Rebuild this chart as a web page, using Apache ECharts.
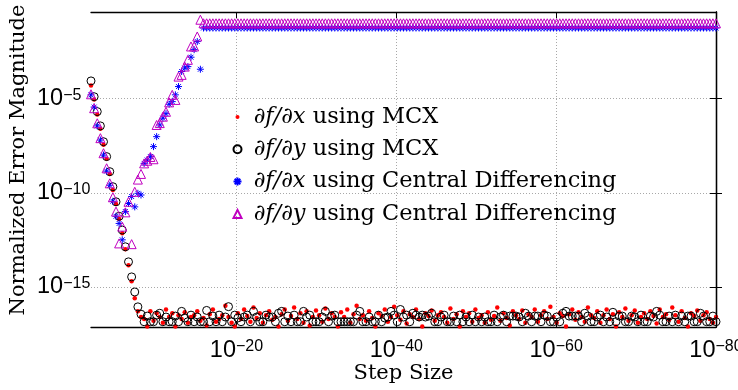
<!DOCTYPE html>
<html>
<head>
<meta charset="utf-8">
<script src="https://cdn.jsdelivr.net/npm/echarts@6/dist/echarts.min.js"></script>
<style>
html, body { margin: 0; padding: 0; background: #fff; }
#chart { width: 738px; height: 390px; }
</style>
</head>
<body>
<div id="chart"></div>
<script>
// step sizes are log-spaced: exponent runs from -1.8 down to -80
var stepExpStart = -1.8;
var stepExpEnd = -80;
var stepCount = 201;

var xTicks = [1e-20, 1e-40, 1e-60, 1e-80];
var yTicks = [1e-5, 1e-10, 1e-15];
var yMinExp = -17.13;
var yMaxExp = -0.4;

var seriesNames = [
    '∂f/∂x using MCX',
    '∂f/∂y using MCX',
    '∂f/∂x using Central Differencing',
    '∂f/∂y using Central Differencing'
];

// log10 of the normalized error, one per step size
var mcxDxLog = [
    -4.3, -5.05, -5.85, -6.6, -7.45, -8.2, -9.0, -9.85, -10.6, -11.4, -12.15, -13.0, -13.85, -14.7, -15.6, -16.3, -16.6,
    -16.7, -17.1, -16.3, -16.8, -16.4, -16.6, -16.9, -16.2,
    -16.6, -16.4, -17.1, -16.5, -16.7, -16.35, -16.9, -16.6,
    -16.5, -16.3, -16.8, -16.65, -17.05, -16.45, -16.2, -16.85,
    -16.7, -16.5, -16.0, -16.6, -16.9, -17.1, -16.4, -16.7,
    -16.2, -16.55, -16.85, -16.1, -16.65, -16.4, -16.9, -16.5,
    -16.3, -16.75, -16.6, -17.1, -16.45, -16.2, -16.8, -16.55,
    -16.1, -16.7, -16.4, -16.9, -16.3, -17.05, -16.6, -16.25,
    -16.5, -16.85, -16.15, -16.7, -16.4, -16.6, -17.1, -16.35,
    -16.6, -16.2, -16.9, -16.45, -16.0, -16.7, -16.5, -16.8,
    -16.3, -16.65, -17.1, -16.4, -16.55, -16.2, -16.85, -16.6,
    -16.05, -16.5, -16.75, -16.3, -16.95, -16.45, -16.6, -16.2,
    -16.7, -17.1, -16.4, -16.55, -16.25, -16.8, -16.5, -16.35,
    -16.6, -16.9, -16.15, -16.7, -16.45, -17.1, -16.3, -16.6,
    -16.4, -16.85, -16.2, -16.65, -16.5, -16.9, -16.35, -16.75,
    -16.55, -16.1, -16.8, -16.4, -16.65, -17.05, -16.3, -16.5,
    -16.7, -16.25, -16.9, -16.45, -16.6, -16.2, -16.85, -16.5,
    -16.3, -16.7, -16.05, -16.6, -16.9, -16.4, -16.55, -17.1,
    -16.45, -16.2, -16.75, -16.35, -16.6, -16.85, -16.1, -16.5,
    -16.65, -16.3, -16.9, -16.5, -16.2, -16.7, -16.45, -17.1,
    -16.35, -16.6, -16.15, -16.8, -16.5, -16.25, -16.9, -16.6,
    -16.4, -16.7, -16.3, -16.55, -16.95, -16.2, -16.6, -16.45,
    -16.75, -16.1, -16.5, -16.85, -16.3, -16.65, -17.1, -16.4,
    -16.55, -16.25, -16.8, -16.5, -16.35, -16.7, -16.9, -16.6
];
var mcxDyLog = [
    -4.06, -4.9, -5.69, -6.45, -7.29, -8.08, -8.88, -9.68, -10.48, -11.25, -11.98, -12.87, -13.67, -14.47, -15.27, -16.06, -16.45,
    -16.85, -16.55, -16.85, -16.85, -16.5, -16.4, -16.85, -16.6,
    -16.85, -16.85, -16.55, -16.85, -16.3, -16.65, -16.85, -16.5,
    -16.85, -16.6, -16.85, -16.85, -16.25, -16.85, -16.55, -16.85,
    -16.5, -16.85, -16.6, -16.05, -16.85, -16.5, -16.65, -16.85,
    -16.6, -16.5, -16.85, -16.3, -16.6, -16.85, -16.85, -16.5,
    -16.6, -16.6, -16.85, -16.4, -16.3, -16.85, -16.55, -16.85,
    -16.5, -16.85, -16.85, -16.3, -16.6, -16.5, -16.85, -16.85,
    -16.85, -16.6, -16.3, -16.85, -16.55, -16.5, -16.85, -16.85,
    -16.85, -16.85, -16.85, -16.85, -16.5, -16.3, -16.85, -16.85,
    -16.6, -16.85, -16.85, -16.5, -16.85, -16.65, -16.6, -16.3,
    -16.5, -16.85, -16.2, -16.6, -16.5, -16.85, -16.4, -16.5,
    -16.6, -16.5, -16.6, -16.55, -16.4, -16.85, -16.85, -16.6,
    -16.5, -16.85, -16.85, -16.55, -16.85, -16.5, -16.85, -16.6,
    -16.85, -16.5, -16.85, -16.6, -16.85, -16.6, -16.85, -16.85,
    -16.5, -16.85, -16.6, -16.5, -16.85, -16.55, -16.55, -16.55,
    -16.6, -16.85, -16.4, -16.55, -16.85, -16.55, -16.55, -16.85,
    -16.5, -16.55, -16.85, -16.85, -16.6, -16.85, -16.4, -16.3,
    -16.55, -16.55, -16.55, -16.55, -16.85, -16.4, -16.55, -16.85,
    -16.85, -16.6, -16.5, -16.85, -16.6, -16.85, -16.35, -16.85,
    -16.55, -16.55, -16.85, -16.85, -16.55, -16.6, -16.85, -16.5,
    -16.85, -16.85, -16.55, -16.6, -16.3, -16.5, -16.85, -16.85,
    -16.55, -16.85, -16.5, -16.85, -16.55, -16.85, -16.55, -16.55,
    -16.85, -16.85, -16.4, -16.55, -16.85, -16.85, -16.55, -16.85
];
var cdDxLog = [
    -4.8, -5.45, -6.45, -7.2, -8.0, -8.85, -9.6, -10.45, -11.25, -11.63, -12.5, -11.0,
    -10.57, -10.2, -10.75, -10.03, -10.12, -8.44, -8.26, -8.08, -7.55, -7.02, -6.4, -6.04,
    -5.8, -5.3, -5.16, -4.8, -4.36, -3.56, -3.38, -3.3, -2.8, -2.4, -1.97, -3.44,
    -1.25, -1.25, -1.25, -1.25, -1.25, -1.25, -1.25, -1.25, -1.25, -1.25, -1.25, -1.25, -1.25, -1.25, -1.25,
    -1.25, -1.25, -1.25, -1.25, -1.25, -1.25, -1.25, -1.25, -1.25, -1.25, -1.25, -1.25, -1.25, -1.25, -1.25,
    -1.25, -1.25, -1.25, -1.25, -1.25, -1.25, -1.25, -1.25, -1.25, -1.25, -1.25, -1.25, -1.25, -1.25, -1.25,
    -1.25, -1.25, -1.25, -1.25, -1.25, -1.25, -1.25, -1.25, -1.25, -1.25, -1.25, -1.25, -1.25, -1.25, -1.25,
    -1.25, -1.25, -1.25, -1.25, -1.25, -1.25, -1.25, -1.25, -1.25, -1.25, -1.25, -1.25, -1.25, -1.25, -1.25,
    -1.25, -1.25, -1.25, -1.25, -1.25, -1.25, -1.25, -1.25, -1.25, -1.25, -1.25, -1.25, -1.25, -1.25, -1.25,
    -1.25, -1.25, -1.25, -1.25, -1.25, -1.25, -1.25, -1.25, -1.25, -1.25, -1.25, -1.25, -1.25, -1.25, -1.25,
    -1.25, -1.25, -1.25, -1.25, -1.25, -1.25, -1.25, -1.25, -1.25, -1.25, -1.25, -1.25, -1.25, -1.25, -1.25,
    -1.25, -1.25, -1.25, -1.25, -1.25, -1.25, -1.25, -1.25, -1.25, -1.25, -1.25, -1.25, -1.25, -1.25, -1.25,
    -1.25, -1.25, -1.25, -1.25, -1.25, -1.25, -1.25, -1.25, -1.25, -1.25, -1.25, -1.25, -1.25, -1.25, -1.25,
    -1.25, -1.25, -1.25, -1.25, -1.25, -1.25, -1.25, -1.25, -1.25, -1.25, -1.25, -1.25, -1.25, -1.25, -1.25
];
var cdDyLog = [
    -4.77, -5.51, -6.31, -7.1, -7.9, -8.7, -9.5, -10.24, -11.0, -12.69, -11.8, -11.04,
    -10.48, -12.73, -9.95, -9.3, -9.0, -8.44, -8.3, -8.1, -8.22, -6.4, -6.3, -5.96,
    -5.7, -5.2, -4.8, -5.07, -3.83, -3.74, -3.3, -2.94, -2.23, -2.23, -1.7, -0.81,
    -1.0, -1.0, -1.0, -1.0, -1.0, -1.0, -1.0, -1.0, -1.0, -1.0, -1.0, -1.0, -1.0, -1.0, -1.0,
    -1.0, -1.0, -1.0, -1.0, -1.0, -1.0, -1.0, -1.0, -1.0, -1.0, -1.0, -1.0, -1.0, -1.0, -1.0,
    -1.0, -1.0, -1.0, -1.0, -1.0, -1.0, -1.0, -1.0, -1.0, -1.0, -1.0, -1.0, -1.0, -1.0, -1.0,
    -1.0, -1.0, -1.0, -1.0, -1.0, -1.0, -1.0, -1.0, -1.0, -1.0, -1.0, -1.0, -1.0, -1.0, -1.0,
    -1.0, -1.0, -1.0, -1.0, -1.0, -1.0, -1.0, -1.0, -1.0, -1.0, -1.0, -1.0, -1.0, -1.0, -1.0,
    -1.0, -1.0, -1.0, -1.0, -1.0, -1.0, -1.0, -1.0, -1.0, -1.0, -1.0, -1.0, -1.0, -1.0, -1.0,
    -1.0, -1.0, -1.0, -1.0, -1.0, -1.0, -1.0, -1.0, -1.0, -1.0, -1.0, -1.0, -1.0, -1.0, -1.0,
    -1.0, -1.0, -1.0, -1.0, -1.0, -1.0, -1.0, -1.0, -1.0, -1.0, -1.0, -1.0, -1.0, -1.0, -1.0,
    -1.0, -1.0, -1.0, -1.0, -1.0, -1.0, -1.0, -1.0, -1.0, -1.0, -1.0, -1.0, -1.0, -1.0, -1.0,
    -1.0, -1.0, -1.0, -1.0, -1.0, -1.0, -1.0, -1.0, -1.0, -1.0, -1.0, -1.0, -1.0, -1.0, -1.0,
    -1.0, -1.0, -1.0, -1.0, -1.0, -1.0, -1.0, -1.0, -1.0, -1.0, -1.0, -1.0, -1.0, -1.0, -1.0
];

var stepSizes = [];
for (var k = 0; k < stepCount; k++) {
    stepSizes.push(Math.pow(10, stepExpStart + (stepExpEnd - stepExpStart) * k / (stepCount - 1)));
}

function toPoints(logErr) {
    var out = [];
    for (var i = 0; i < logErr.length && i < stepSizes.length; i++) {
        out.push([stepSizes[i], Math.pow(10, logErr[i])]);
    }
    return out;
}

function powLabel(v) {
    var e = Math.round(Math.log(v) / Math.LN10);
    return '{b|10}{s|\u2212' + Math.abs(e) + '}';
}

var sans = 'Liberation Sans';
var serif = 'DejaVu Serif';
var powRich = {
    b: { fontFamily: sans, fontSize: 23.5, lineHeight: 23, color: '#000', padding: [8, 0, 8, 0] },
    s: { fontFamily: sans, fontSize: 16, lineHeight: 16, color: '#000', verticalAlign: 'top' }
};
var asterisk = 'path://M5,0L5,10M0,5L10,5M1.5,1.5L8.5,8.5M1.5,8.5L8.5,1.5';
// small dot icon for the legend, padded so it stays small inside the icon box
var smallDot = 'path://M0,0M10,10M5,2.5A2.5,2.5,0,1,1,5,7.5A2.5,2.5,0,1,1,5,2.5Z';

var myChart = echarts.init(document.getElementById('chart'));
var option = {
    animation: false,
    backgroundColor: '#fff',
    grid: { left: 91, right: 22, top: 12, bottom: 63, containLabel: false, outerBoundsMode: 'none' },
    legend: {
        orient: 'vertical',
        left: 232.5,
        top: 104,
        padding: 0,
        itemWidth: 8,
        itemHeight: 8,
        itemGap: 6.3,
        data: [
            { name: seriesNames[0], icon: smallDot },
            seriesNames[1],
            seriesNames[2],
            seriesNames[3]
        ],
        formatter: function (name) {
            var parts = name.split(' using ');
            return ' {m|' + parts[0] + '} using ' + parts[1];
        },
        textStyle: {
            fontFamily: serif, fontSize: 22.5, lineHeight: 26, color: '#000',
            rich: { m: { fontFamily: serif, fontStyle: 'italic', fontSize: 22.5, lineHeight: 26, color: '#000' } }
        }
    },
    xAxis: [
        {
            type: 'log',
            inverse: true,
            min: Math.pow(10, stepExpEnd),
            max: Math.pow(10, stepExpStart),
            name: 'Step Size',
            nameLocation: 'middle',
            nameGap: 36,
            nameMoveOverlap: false,
            nameTextStyle: { fontFamily: serif, fontSize: 21, color: '#000' },
            axisLine: { show: true, lineStyle: { color: '#000', width: 1.3 } },
            axisTick: { inside: true, length: 6, customValues: xTicks, lineStyle: { color: '#000' } },
            axisLabel: {
                customValues: xTicks, formatter: powLabel, rich: powRich, margin: 12,
                fontFamily: sans, fontSize: 23.5, color: '#000', showMinLabel: true, showMaxLabel: true
            },
            splitLine: { show: true, lineStyle: { color: '#a8a8a8', type: [1, 2], width: 1 } }
        },
        {
            type: 'log',
            position: 'top',
            inverse: true,
            min: Math.pow(10, stepExpEnd),
            max: Math.pow(10, stepExpStart),
            axisLine: { show: true, lineStyle: { color: '#000', width: 1.3 } },
            axisTick: { inside: true, length: 6, customValues: xTicks, lineStyle: { color: '#000' } },
            axisLabel: { show: false },
            splitLine: { show: false }
        }
    ],
    yAxis: [
        {
            type: 'log',
            min: Math.pow(10, yMinExp),
            max: Math.pow(10, yMaxExp),
            name: 'Normalized Error Magnitude',
            nameLocation: 'middle',
            nameGap: 62,
            nameMoveOverlap: false,
            nameTextStyle: { fontFamily: serif, fontSize: 21, color: '#000', padding: [0, 0, 0, 19] },
            axisLine: { show: true, lineStyle: { color: '#000', width: 1.3 } },
            axisTick: { show: true, inside: true, length: 6, customValues: yTicks, lineStyle: { color: '#000' } },
            axisLabel: {
                customValues: yTicks, formatter: powLabel, rich: powRich, align: 'left', margin: 54,
                fontFamily: sans, fontSize: 23.5, color: '#000'
            },
            splitLine: { show: true, lineStyle: { color: '#a8a8a8', type: [1, 2], width: 1 } }
        },
        {
            type: 'log',
            position: 'right',
            min: Math.pow(10, yMinExp),
            max: Math.pow(10, yMaxExp),
            axisLine: { show: true, lineStyle: { color: '#000', width: 1.3 } },
            axisTick: { show: true, inside: true, length: 6, customValues: yTicks, lineStyle: { color: '#000' } },
            axisLabel: { show: false },
            splitLine: { show: false }
        }
    ],
    series: [
        {
            name: seriesNames[0], type: 'scatter', clip: false,
            symbol: 'circle', symbolSize: 4.5,
            itemStyle: { color: '#ff0000', opacity: 1 },
            data: toPoints(mcxDxLog)
        },
        {
            name: seriesNames[1], type: 'scatter', clip: false,
            symbol: 'circle', symbolSize: 8,
            itemStyle: { color: 'rgba(0,0,0,0)', borderColor: '#000', borderWidth: 1, opacity: 1 },
            data: toPoints(mcxDyLog)
        },
        {
            name: seriesNames[2], type: 'scatter', clip: false,
            symbol: asterisk, symbolSize: 7,
            itemStyle: { color: 'rgba(0,0,0,0)', borderColor: '#0000ff', borderWidth: 1, opacity: 1 },
            data: toPoints(cdDxLog)
        },
        {
            name: seriesNames[3], type: 'scatter', clip: false,
            symbol: 'triangle', symbolSize: 9,
            itemStyle: { color: 'rgba(0,0,0,0)', borderColor: '#c000c0', borderWidth: 1, opacity: 1 },
            data: toPoints(cdDyLog)
        }
    ]
};
myChart.setOption(option);
</script>
</body>
</html>
